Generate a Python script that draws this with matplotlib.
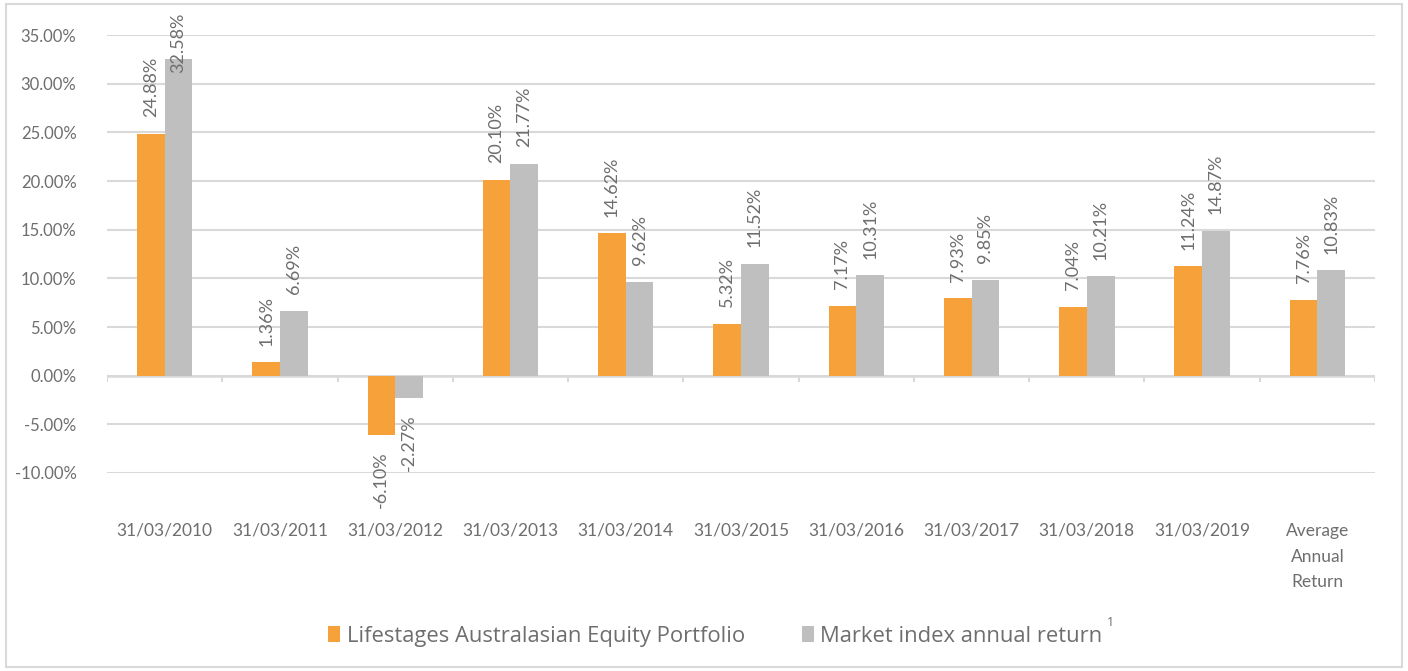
import numpy as np
import matplotlib.pyplot as plt
from matplotlib.patches import Rectangle
from matplotlib.ticker import FuncFormatter

categories = ['31/03/2010', '31/03/2011', '31/03/2012', '31/03/2013', '31/03/2014',
              '31/03/2015', '31/03/2016', '31/03/2017', '31/03/2018', '31/03/2019',
              'Average\nAnnual\nReturn']
portfolio = [24.88, 1.36, -6.10, 20.10, 14.62, 5.32, 7.17, 7.93, 7.04, 11.24, 7.76]
market = [32.58, 6.69, -2.27, 21.77, 9.62, 11.52, 10.31, 9.85, 10.21, 14.87, 10.83]
series_names = ['Lifestages Australasian Equity Portfolio', 'Market index annual return']

ORANGE = '#F7A13B'
GREY = '#BFBFBF'
TEXT = '#6E6E6E'
GRID = '#D9D9D9'
LABEL_GAP = 12  # points between bar end and its label

fig = plt.figure(figsize=(14.08, 6.71), dpi=100)
ax = fig.add_axes([0.076, 0.2951, 0.9006, 0.6527])

x = np.arange(len(categories))
w = 0.24
bars1 = ax.bar(x - w / 2, portfolio, w, color=ORANGE, label=series_names[0], zorder=3)
bars2 = ax.bar(x + w / 2, market, w, color=GREY, label=series_names[1], zorder=3)

# data labels, rotated like the original
labels = []
for bars, vals in ((bars1, portfolio), (bars2, market)):
    for b, v in zip(bars, vals):
        cx = b.get_x() + b.get_width() / 2
        sign = 1 if v >= 0 else -1
        ann = ax.annotate(f'{v:.2f}%', (cx, v), xytext=(0, sign * LABEL_GAP),
                          textcoords='offset points', rotation=90, ha='center',
                          va='bottom' if v >= 0 else 'top', fontsize=13,
                          color=TEXT, family='Lato', annotation_clip=False, zorder=4)
        labels.append(ann)

ax.set_xlim(-0.5, len(categories) - 0.5)
ax.set_ylim(-10, 35)
ax.set_yticks(np.arange(-10, 36, 5))
ax.yaxis.set_major_formatter(FuncFormatter(lambda v, p: f'{v:.2f}%'))
ax.grid(axis='y', color=GRID, linewidth=1.5, zorder=0)
ax.axhline(0, color=GRID, linewidth=1.8, zorder=2)
ax.vlines(np.arange(len(categories) + 1) - 0.5, -0.6, 0, color=GRID, linewidth=1.5, zorder=2)

ax.set_xticks(x)
ax.set_xticklabels(categories, multialignment='center', linespacing=1.75)
ax.tick_params(axis='x', length=0, pad=36, labelsize=12.5, labelcolor=TEXT)
ax.tick_params(axis='y', length=0, pad=22, labelsize=12, labelcolor=TEXT)
for lab in ax.get_xticklabels() + ax.get_yticklabels():
    lab.set_family('Lato')
for s in ax.spines.values():
    s.set_visible(False)

leg = fig.legend(loc='center', bbox_to_anchor=(0.508, 0.052), ncol=2, frameon=False,
                 handlelength=0.55, handleheight=0.7, handletextpad=0.3, columnspacing=2.6,
                 prop={'family': 'Open Sans', 'size': 15.8})
for t in leg.get_texts():
    t.set_color(TEXT)
fig.text(0.786, 0.073, '1', fontsize=9, color=TEXT, family='Open Sans', va='center')

fig.patches.append(Rectangle((0.004, 0.006), 0.992, 0.988, transform=fig.transFigure,
                             fill=False, edgecolor=GRID, linewidth=1.5))

# keep labels inside the chart area, the way the original pushes the tallest one down
fig.canvas.draw()
renderer = fig.canvas.get_renderer()
top_px = fig.bbox.height - 13
for ann in labels:
    bb = ann.get_window_extent(renderer)
    if bb.y1 > top_px:
        over = (bb.y1 - top_px) * 72 / fig.dpi
        ann.xyann = (0, LABEL_GAP - over)

fig.savefig('out.png', dpi=100)
